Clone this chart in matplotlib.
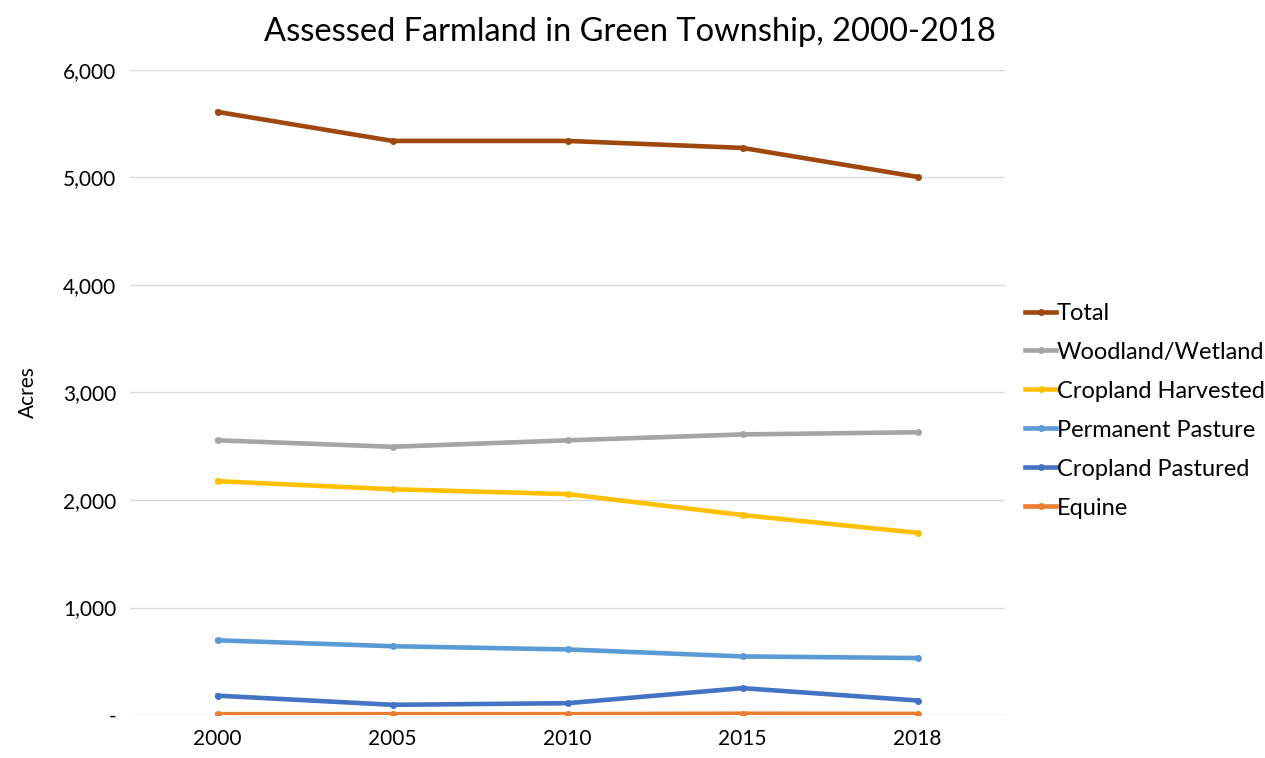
import matplotlib.pyplot as plt
from matplotlib.ticker import FuncFormatter

plt.rcParams['font.family'] = ['Lato', 'DejaVu Sans']

years = ['2000', '2005', '2010', '2015', '2018']
total = [5610, 5340, 5340, 5275, 5005]
woodland = [2555, 2495, 2555, 2610, 2630]
crop_harvested = [2175, 2100, 2055, 1860, 1695]
perm_pasture = [695, 640, 610, 545, 530]
crop_pastured = [180, 95, 110, 250, 135]
equine = [8, 8, 8, 12, 10]

series = [
    ('Total', total, '#9E480E'),
    ('Woodland/Wetland', woodland, '#A5A5A5'),
    ('Cropland Harvested', crop_harvested, '#FFC000'),
    ('Permanent Pasture', perm_pasture, '#5B9BD5'),
    ('Cropland Pastured', crop_pastured, '#4472C4'),
    ('Equine', equine, '#ED7D31'),
]

fig = plt.figure(figsize=(12.65, 7.58), dpi=100)
ax = fig.add_axes([0.1028, 0.0567, 0.6917, 0.851])

x = range(len(years))
for name, vals, col in series:
    ax.plot(x, vals, color=col, linewidth=3.3, marker='o', markersize=4, label=name)

ax.set_xlim(-0.5, len(years) - 0.5)
ax.set_ylim(0, 6000)
ax.set_yticks(range(0, 6001, 1000))
ax.yaxis.set_major_formatter(FuncFormatter(lambda v, p: '-' if v == 0 else f'{v:,.0f}'))
ax.set_xticks(list(x))
ax.set_xticklabels(years)
ax.tick_params(length=0, labelsize=15, colors='black', pad=10)
ax.tick_params(axis='y', pad=10)
ax.grid(axis='y', color='#D9D9D9', linewidth=1)
ax.set_axisbelow(True)
for s in ax.spines.values():
    s.set_visible(False)
ax.set_ylabel('Acres', fontsize=15, labelpad=18)

fig.suptitle('Assessed Farmland in Green Township, 2000-2018', fontsize=23.5, x=0.498, y=0.977)

fig.legend(loc='upper left', bbox_to_anchor=(0.803, 0.613), frameon=False, fontsize=17,
           handlelength=1.3, handletextpad=0.05, labelspacing=0.76, borderaxespad=0)

fig.savefig('out.png', dpi=100)
